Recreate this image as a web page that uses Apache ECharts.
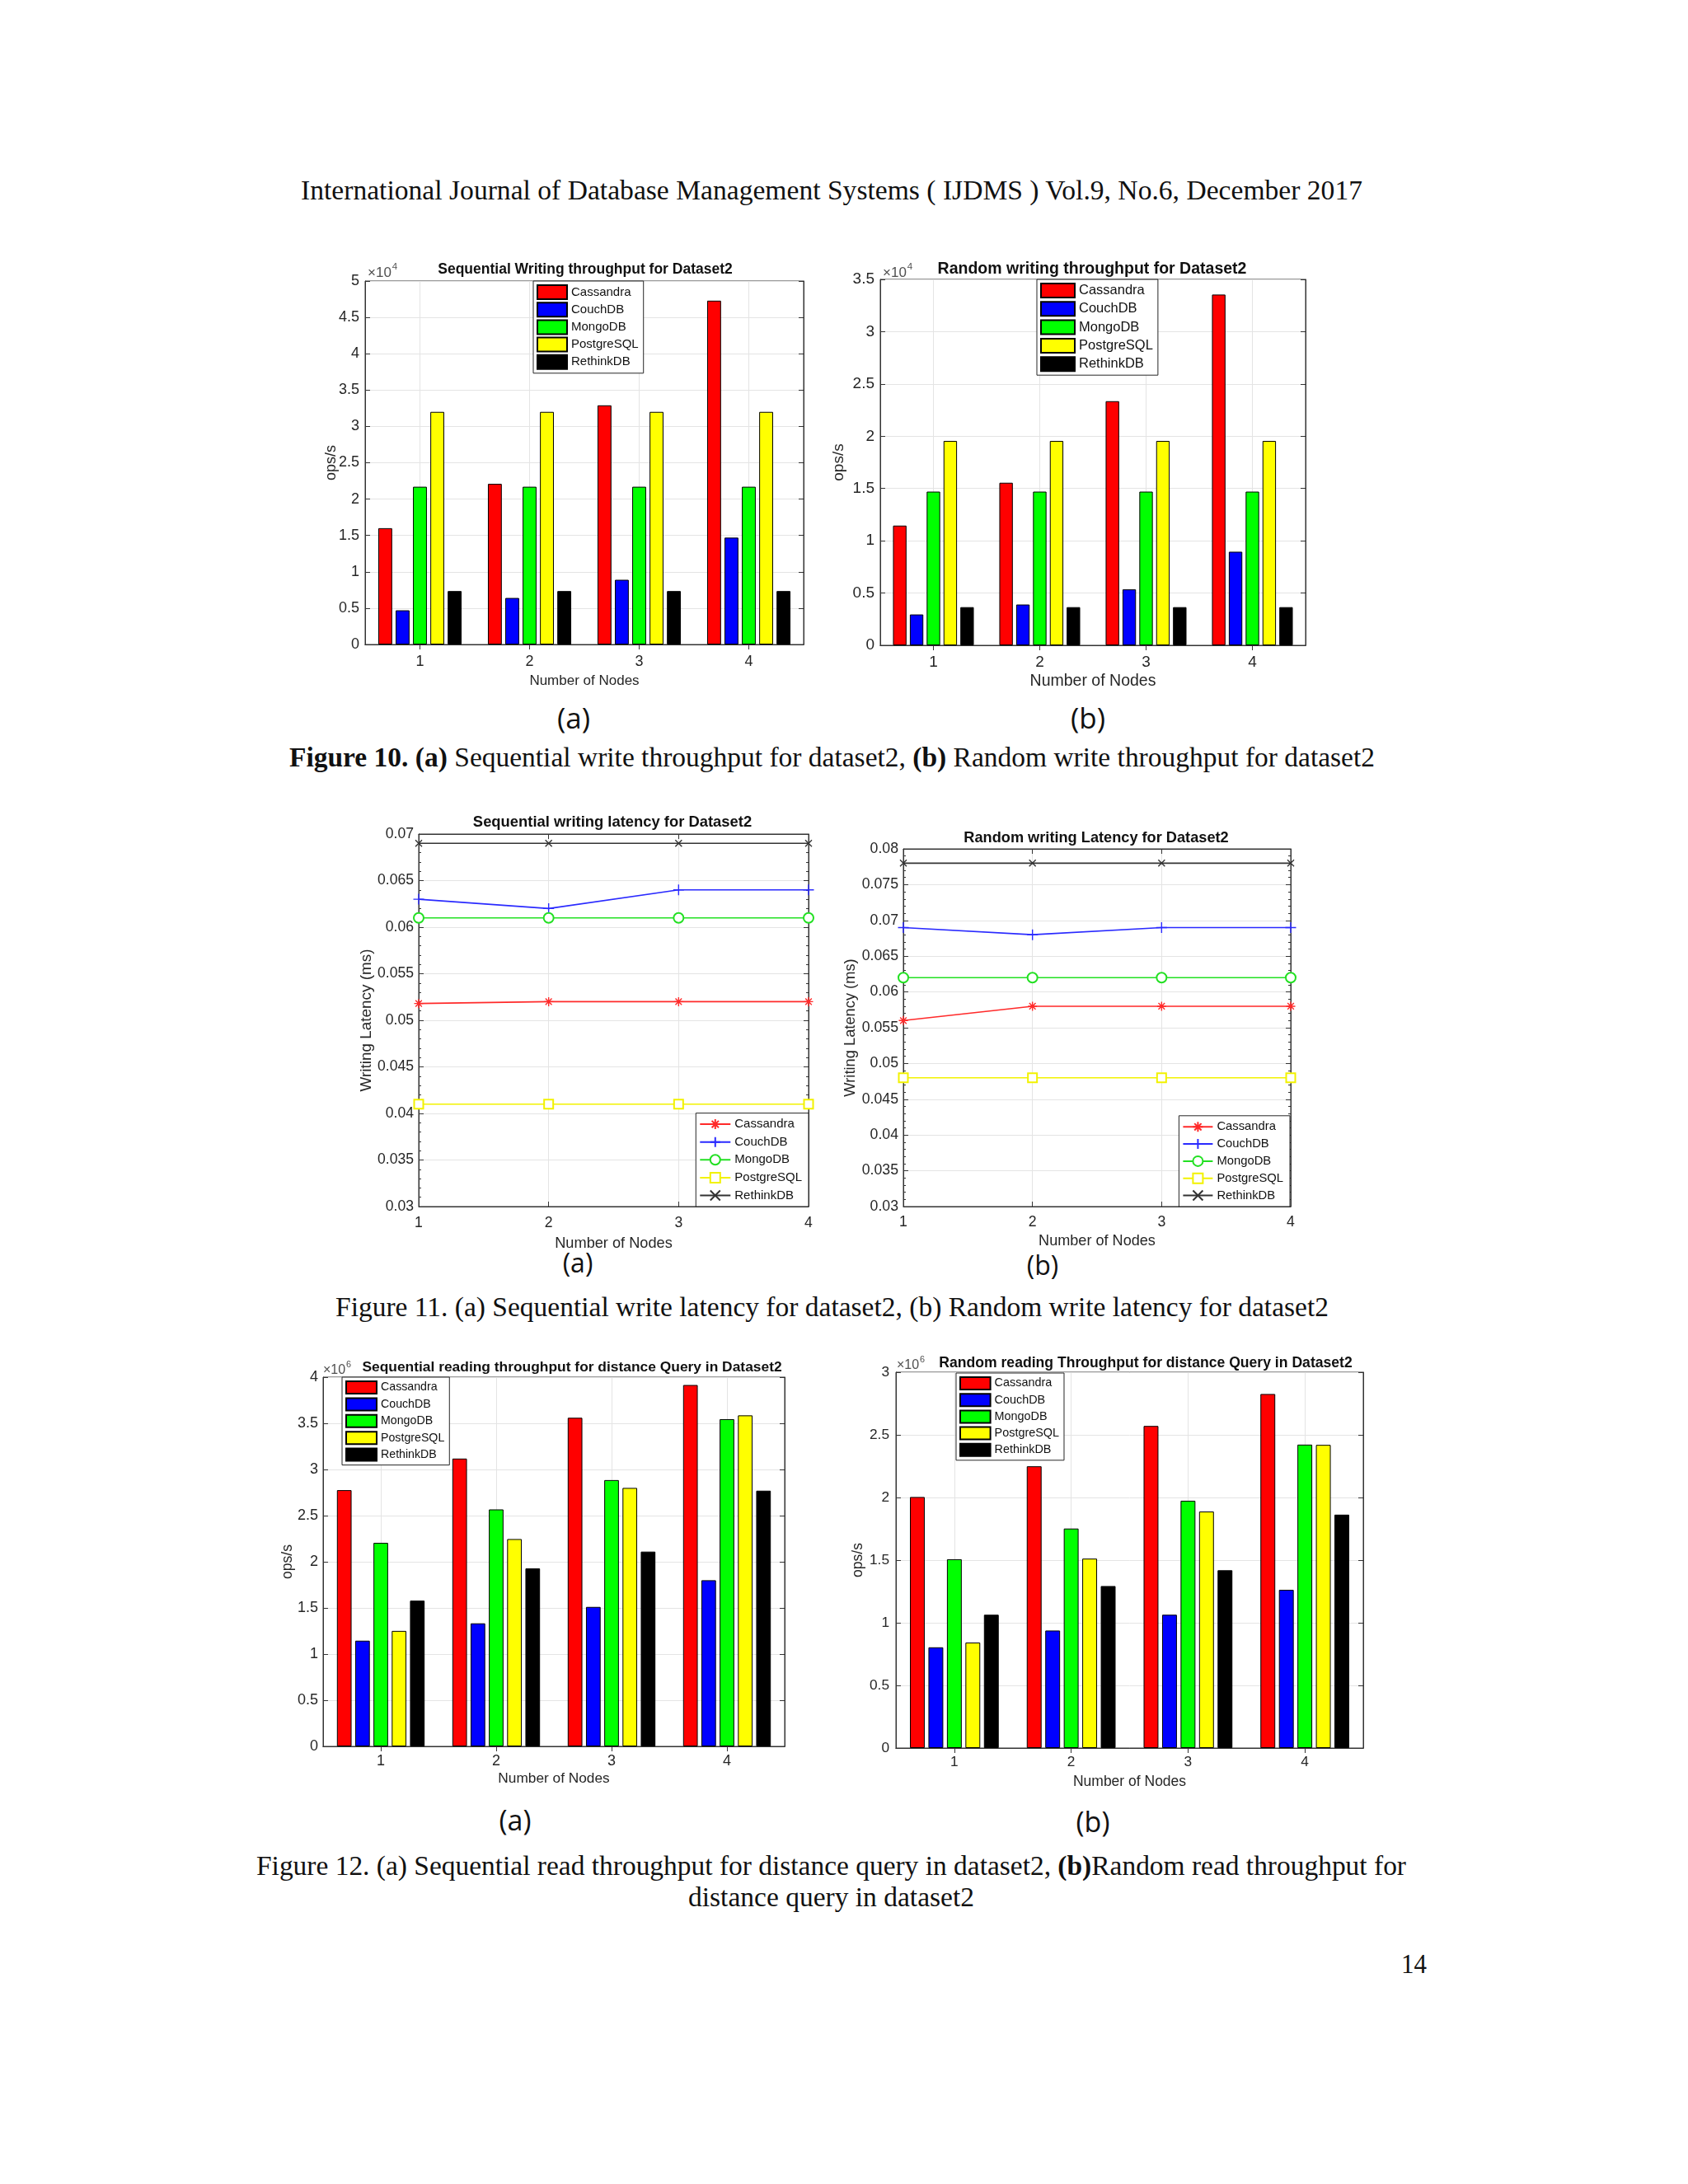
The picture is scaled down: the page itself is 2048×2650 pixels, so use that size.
<!DOCTYPE html>
<html><head><meta charset="utf-8">
<script src="https://cdn.jsdelivr.net/npm/echarts@6/dist/echarts.min.js"></script>
<style>
html,body{margin:0;padding:0;background:#fff;}
#page{position:relative;width:2048px;height:2650px;background:#fff;overflow:hidden;}
.t{position:absolute;white-space:nowrap;font-family:"Liberation Serif","Times New Roman",serif;color:#111;transform-origin:0 50%;line-height:1;}
.lab{position:absolute;font-family:"Open Sans","Noto Sans",sans-serif;color:#111;line-height:1;white-space:nowrap;transform:translate(-50%,-50%);}
.c{position:absolute;}
</style></head>
<body><div id="page"></div>
<script>
// ---------- data ----------
const nodeLabels = ['1','2','3','4'];
const nodeValues = [1,2,3,4];
const dbNames = ['Cassandra','CouchDB','MongoDB','PostgreSQL','RethinkDB'];

// Figure 10(a) Sequential writing throughput (ops/s)
const swtCassandra  = [16000, 22100, 32900, 47300];
const swtCouchDB    = [4700, 6400, 8900, 14700];
const swtMongoDB    = [21700, 21700, 21700, 21700];
const swtPostgreSQL = [32000, 32000, 32000, 32000];
const swtRethinkDB  = [7350, 7350, 7350, 7350];

// Figure 10(b) Random writing throughput (ops/s)
const rwtCassandra  = [11450, 15550, 23350, 33550];
const rwtCouchDB    = [2950, 3900, 5350, 8950];
const rwtMongoDB    = [14700, 14700, 14700, 14700];
const rwtPostgreSQL = [19550, 19550, 19550, 19550];
const rwtRethinkDB  = [3650, 3650, 3650, 3650];

// Figure 11(a) Sequential writing latency (ms)
const swlCassandra  = [0.0518, 0.052, 0.052, 0.052];
const swlCouchDB    = [0.063, 0.062, 0.064, 0.064];
const swlMongoDB    = [0.061, 0.061, 0.061, 0.061];
const swlPostgreSQL = [0.041, 0.041, 0.041, 0.041];
const swlRethinkDB  = [0.069, 0.069, 0.069, 0.069];

// Figure 11(b) Random writing latency (ms)
const rwlCassandra  = [0.056, 0.058, 0.058, 0.058];
const rwlCouchDB    = [0.069, 0.068, 0.069, 0.069];
const rwlMongoDB    = [0.062, 0.062, 0.062, 0.062];
const rwlPostgreSQL = [0.048, 0.048, 0.048, 0.048];
const rwlRethinkDB  = [0.078, 0.078, 0.078, 0.078];

// Figure 12(a) Sequential reading throughput, distance query (ops/s)
const srtCassandra  = [2776000, 3118000, 3560000, 3915000];
const srtCouchDB    = [1145000, 1333000, 1511000, 1800000];
const srtMongoDB    = [2205000, 2567000, 2885000, 3545000];
const srtPostgreSQL = [1251000, 2246000, 2800000, 3586000];
const srtRethinkDB  = [1579000, 1928000, 2110000, 2770000];

// Figure 12(b) Random reading throughput, distance query (ops/s)
const rrtCassandra  = [2004000, 2249000, 2571000, 2826000];
const rrtCouchDB    = [804000, 938000, 1064000, 1263000];
const rrtMongoDB    = [1507000, 1752000, 1974000, 2422000];
const rrtPostgreSQL = [842000, 1512000, 1888000, 2420000];
const rrtRethinkDB  = [1064000, 1293000, 1419000, 1863000];

// ---------- styles ----------
const barColors  = ['#ff0000','#0000ff','#00ff00','#ffff00','#000000'];
const lineColors = ['#ff2a2a','#2a2aff','#22e022','#f2f200','#333333'];
const lineSymbols = [
  'path://M5,0L5,10M0,5L10,5M1.5,1.5L8.5,8.5M8.5,1.5L1.5,8.5',
  'path://M5,0L5,10M0,5L10,5',
  'emptyCircle',
  'emptyRect',
  'path://M0,0L10,10M10,0L0,10'
];
const lineSymbolSizes = [11, 13, 12, 11, 8];
const fam = '"Liberation Sans", Arial, Helvetica, sans-serif';
const axisCol = '#333333';
const gridCol = '#e4e4e4';
const tickCol = '#262626';

const page = document.getElementById('page');
function mkDiv(L,T,W,H){
  const d=document.createElement('div');d.className='c';
  d.style.left=L+'px';d.style.top=T+'px';d.style.width=W+'px';d.style.height=H+'px';
  page.appendChild(d);return d;
}
function addText(html,x0,x1,cy,fs){
  const d=document.createElement('div');d.className='t';d.innerHTML=html;
  d.style.fontSize=fs+'px';d.style.left=x0+'px';d.style.top=(cy-fs/2)+'px';
  page.appendChild(d);
  const w=d.getBoundingClientRect().width;
  d.style.transform='scaleX('+((x1-x0)/w)+')';
}
function addLabel(txt,cx,cy,fs){
  const d=document.createElement('div');d.className='lab';d.textContent=txt;
  d.style.fontSize=fs+'px';d.style.left=cx+'px';d.style.top=cy+'px';page.appendChild(d);
}
function gText(x,y,text,fs,opts){
  opts=opts||{};
  return {type:'text',x:x,y:y,z:100,silent:true,style:{text:text,fontSize:fs,fontFamily:fam,fontWeight:opts.bold?'bold':'normal',
    fill:opts.color||'#111',textAlign:opts.align||'left',align:opts.align||'left',
    textVerticalAlign:'middle',verticalAlign:'middle'}};
}

function frameAxes(c,isBar){
  const tick={show:true,inside:true,length:6,lineStyle:{color:axisCol}};
  const line={show:true,lineStyle:{color:axisCol,width:1}};
  let xMain, xTop;
  if(isBar){
    xMain={type:'category',data:nodeLabels,position:'bottom',axisLine:line,
      axisTick:Object.assign({alignWithLabel:true},tick),
      axisLabel:{fontSize:c.tickFs,color:tickCol,margin:c.xMargin,fontFamily:fam},
      splitLine:{show:true,alignWithLabel:true,lineStyle:{color:gridCol,width:1}}};
    xTop={type:'category',data:nodeLabels,position:'top',axisLine:line,
      axisTick:Object.assign({alignWithLabel:true},tick),axisLabel:{show:false},splitLine:{show:false}};
  }else{
    xMain={type:'value',min:1,max:4,interval:1,position:'bottom',axisLine:line,axisTick:tick,
      axisLabel:{fontSize:c.tickFs,color:tickCol,margin:c.xMargin,fontFamily:fam},
      splitLine:{show:true,lineStyle:{color:gridCol,width:1}}};
    xTop={type:'value',min:1,max:4,interval:1,position:'top',axisLine:line,axisTick:tick,
      axisLabel:{show:false},splitLine:{show:false}};
  }
  Object.assign(xMain,{name:'Number of Nodes',nameLocation:'middle',nameGap:c.xNameGap,nameMoveOverlap:false,
    nameTextStyle:{fontSize:c.xNameFs,color:tickCol,fontFamily:fam}});
  const minor=isBar?{show:false}:{show:true,splitNumber:5,length:3,lineStyle:{color:axisCol}};
  const yMain={type:'value',min:c.min,max:c.max,interval:c.interval,position:'left',axisLine:line,axisTick:tick,
    minorTick:minor,
    axisLabel:{fontSize:c.tickFs,color:tickCol,margin:c.yMargin,formatter:c.fmt,fontFamily:fam},
    splitLine:{show:true,lineStyle:{color:gridCol,width:1}},
    name:c.yName,nameLocation:'middle',nameGap:c.yNameGap,nameMoveOverlap:false,
    nameTextStyle:{fontSize:c.yNameFs,color:tickCol,fontFamily:fam}};
  const yRight={type:'value',min:c.min,max:c.max,interval:c.interval,position:'right',axisLine:line,axisTick:tick,
    minorTick:minor,axisLabel:{show:false},splitLine:{show:false}};
  return {xAxis:[xMain,xTop],yAxis:[yMain,yRight]};
}

function buildChart(c){
  const [x0,y0,x1,y1]=c.box;
  const L=x0-125, T=y0-60, W=(x1-x0)+150, H=(y1-y0)+110;
  const div=mkDiv(L,T,W,H);
  const chart=echarts.init(div,null,{renderer:'canvas',width:W,height:H});
  const axes=frameAxes(c,c.kind==='bar');
  const graphic=[gText(c.title.x-L,c.title.y-T,c.title.text,c.title.fs,{bold:true,align:'center'})];
  if(c.exp){
    graphic.push(gText(c.exp.x-L,c.exp.y-T,'\u00d710',c.exp.fs,{color:'#505050'}));
    graphic.push(gText(c.exp.x+c.exp.fs*1.75-L,c.exp.y-7-T,c.exp.pow,c.exp.fs*0.68,{color:'#505050'}));
  }
  const lg=c.legend;
  const legend={orient:'vertical',selectedMode:false,data:dbNames,
    itemWidth:lg.iw,itemHeight:lg.ih,itemGap:lg.gap,padding:lg.pad,
    borderColor:'#262626',borderWidth:1,backgroundColor:'#ffffff',
    textStyle:{fontSize:lg.fs,lineHeight:lg.ih,color:'#111',fontFamily:fam}};
  if(lg.left!==undefined){legend.left=lg.left-L;legend.top=lg.top-T;}
  else{legend.right=(L+W)-lg.right;legend.bottom=(T+H)-lg.bottom;}
  let series;
  if(c.kind==='bar'){
    legend.icon='rect';
    series=dbNames.map((n,i)=>({name:n,type:'bar',xAxisIndex:0,yAxisIndex:0,data:c.data[i],
      barGap:'25%',barCategoryGap:'24%',
      itemStyle:{color:barColors[i],borderColor:'#000',borderWidth:1},emphasis:{disabled:true}}));
  }else{
    series=dbNames.map((n,i)=>{
      const empty=lineSymbols[i].indexOf('empty')===0;
      return {name:n,type:'line',xAxisIndex:0,yAxisIndex:0,
        data:nodeValues.map((x,j)=>[x,c.data[i][j]]),
        symbol:lineSymbols[i],symbolSize:lineSymbolSizes[i],showAllSymbol:true,clip:false,
        lineStyle:{color:lineColors[i],width:1.6},
        itemStyle:empty?{color:lineColors[i],borderColor:lineColors[i],borderWidth:1.4}
                       :{color:'rgba(0,0,0,0)',borderColor:lineColors[i],borderWidth:1.4},
        emphasis:{disabled:true}};
    });
  }
  chart.setOption({
    animation:false,backgroundColor:'transparent',
    textStyle:{fontFamily:fam},
    grid:{left:x0-L,top:y0-T,width:x1-x0,height:y1-y0,show:true,borderColor:axisCol,borderWidth:1,
      backgroundColor:'#ffffff',containLabel:false,outerBoundsMode:'none'},
    xAxis:axes.xAxis,yAxis:axes.yAxis,legend:legend,graphic:graphic,series:series
  });
}

const fmt1e4=v=>String(Math.round(v/1e4*1000)/1000);
const fmt1e6=v=>String(Math.round(v/1e6*1000)/1000);
const fmtLat=v=>String(+v.toFixed(3));

// ---------- page text ----------
addText('International Journal of Database Management Systems ( IJDMS ) Vol.9, No.6, December 2017',365,1653,231,33);
addText('<b>Figure 10.</b> <b>(a)</b> Sequential write throughput for dataset2, <b>(b)</b> Random write throughput for dataset2',351,1668,919,33);
addText('Figure 11. (a) Sequential write latency for dataset2, (b) Random write latency for dataset2',407,1612,1586,33);
addText('Figure 12. (a) Sequential read throughput for distance query in dataset2, <b>(b)</b>Random read throughput for',311,1706,2264,33);
addText('distance query in dataset2',835,1182,2302,33);
addText('14',1700,1731,2383,33);
addLabel('(a)',696,870,35);
addLabel('(b)',1320,870,35);
addLabel('(a)',701,1532,32);
addLabel('(b)',1265,1535,32);
addLabel('(a)',625,2208,34);
addLabel('(b)',1326,2210,34);

// ---------- charts ----------
buildChart({kind:'bar',box:[443,341,975,782],min:0,max:50000,interval:5000,fmt:fmt1e4,
  data:[swtCassandra,swtCouchDB,swtMongoDB,swtPostgreSQL,swtRethinkDB],
  title:{text:'Sequential Writing throughput for Dataset2',x:710,y:327,fs:17.5},
  exp:{x:446,y:331,fs:17,pow:'4'},
  tickFs:18,xMargin:12,yMargin:7,xNameGap:36,xNameFs:17,yName:'ops/s',yNameGap:32,yNameFs:18,
  legend:{left:647,top:341,iw:36,ih:17,gap:2.2,fs:15,pad:[4,6,4,4]}});

buildChart({kind:'bar',box:[1068,339,1584,783],min:0,max:35000,interval:5000,fmt:fmt1e4,
  data:[rwtCassandra,rwtCouchDB,rwtMongoDB,rwtPostgreSQL,rwtRethinkDB],
  title:{text:'Random writing throughput for Dataset2',x:1325,y:327,fs:19.5},
  exp:{x:1071,y:331,fs:17,pow:'4'},
  tickFs:19,xMargin:11,yMargin:7,xNameGap:34,xNameFs:19.5,yName:'ops/s',yNameGap:41,yNameFs:19,
  legend:{left:1258,top:339,iw:41,ih:17,gap:3.3,fs:16.5,pad:[4,6,4,4]}});

buildChart({kind:'line',box:[508,1012,981,1464],min:0.03,max:0.07,interval:0.005,fmt:fmtLat,
  data:[swlCassandra,swlCouchDB,swlMongoDB,swlPostgreSQL,swlRethinkDB],
  title:{text:'Sequential writing latency for Dataset2',x:743,y:998,fs:18.4},
  tickFs:17.6,xMargin:11,yMargin:6,xNameGap:36,xNameFs:18.2,yName:'Writing Latency (ms)',yNameGap:54,yNameFs:18.9,
  legend:{right:981,bottom:1464,iw:37,ih:15,gap:6.6,fs:15,pad:[6,8,6,4]}});

buildChart({kind:'line',box:[1096,1030,1566,1464],min:0.03,max:0.08,interval:0.005,fmt:fmtLat,
  data:[rwlCassandra,rwlCouchDB,rwlMongoDB,rwlPostgreSQL,rwlRethinkDB],
  title:{text:'Random writing Latency for Dataset2',x:1330,y:1017,fs:18.2},
  tickFs:17.7,xMargin:10,yMargin:6,xNameGap:33,xNameFs:18.1,yName:'Writing Latency (ms)',yNameGap:55,yNameFs:18.3,
  legend:{right:1565,bottom:1464,iw:36,ih:15,gap:5.8,fs:14.8,pad:[6,8,6,4]}});

buildChart({kind:'bar',box:[392,1671,952,2119],min:0,max:4000000,interval:500000,fmt:fmt1e6,
  data:[srtCassandra,srtCouchDB,srtMongoDB,srtPostgreSQL,srtRethinkDB],
  title:{text:'Sequential reading throughput for distance Query in Dataset2',x:694,y:1659,fs:17.4},
  exp:{x:392,y:1663,fs:16,pow:'6'},
  tickFs:18,xMargin:9,yMargin:6,xNameGap:31,xNameFs:17.3,yName:'ops/s',yNameGap:34,yNameFs:17.6,
  legend:{left:415,top:1671,iw:37,ih:15,gap:3.4,fs:14.2,pad:[4,6,4,4]}});

buildChart({kind:'bar',box:[1087,1665,1654,2121],min:0,max:3000000,interval:500000,fmt:fmt1e6,
  data:[rrtCassandra,rrtCouchDB,rrtMongoDB,rrtPostgreSQL,rrtRethinkDB],
  title:{text:'Random reading Throughput for distance Query in Dataset2',x:1390,y:1654,fs:17.6},
  exp:{x:1088,y:1657,fs:16,pow:'6'},
  tickFs:17.3,xMargin:9,yMargin:8,xNameGap:32,xNameFs:17.5,yName:'ops/s',yNameGap:37,yNameFs:17.5,
  legend:{left:1160,top:1666,iw:36.6,ih:15,gap:3.2,fs:14.4,pad:[4,6,4,4]}});
</script>
</body></html>
